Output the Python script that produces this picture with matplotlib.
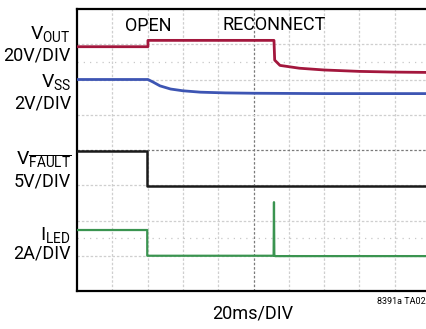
import matplotlib.pyplot as plt
import matplotlib as mpl

# scope traces, x and y in divisions (10 x 8 grid)
vout_t = [0.0, 2.01, 2.01, 5.58, 5.60, 5.75, 6.3, 7.0, 8.0, 9.0, 10.0]
vout_v = [6.93, 6.93, 7.11, 7.11, 6.55, 6.40, 6.32, 6.27, 6.23, 6.21, 6.20]

vss_t = [0.0, 2.01, 2.15, 2.35, 2.65, 3.0, 3.5, 4.2, 5.0, 7.0, 10.0]
vss_v = [6.00, 6.00, 5.93, 5.82, 5.73, 5.68, 5.64, 5.62, 5.61, 5.60, 5.60]

fault_t = [0.0, 1.99, 1.99, 10.0]
fault_v = [3.97, 3.97, 2.97, 2.97]

iled_t = [0.0, 1.99, 1.99, 5.57, 5.58, 5.59, 5.62, 10.0]
iled_v = [1.73, 1.73, 1.00, 1.00, 2.52, 1.00, 0.99, 0.99]

mpl.rcParams['font.family'] = ['Roboto', 'DejaVu Sans']
mpl.rcParams['mathtext.fontset'] = 'custom'
mpl.rcParams['mathtext.rm'] = 'Roboto'
mpl.rcParams['mathtext.it'] = 'Roboto'

fig = plt.figure(figsize=(4.27, 3.29), dpi=100)
ax = fig.add_axes([77 / 427, 38 / 329, 353 / 427, 282 / 329])
ax.set_xlim(0, 10)
ax.set_ylim(0, 8)

# graticule
for i in range(1, 10):
    c = '#7a7a7a' if i == 5 else '#cfcfcf'
    ax.axvline(i, color=c, lw=0.9, ls=(0, (2, 1.5)), zorder=1)
for j in range(1, 8):
    c = '#7a7a7a' if j == 4 else '#cfcfcf'
    ax.axhline(j, color=c, lw=0.9, ls=(0, (2, 1.5)), zorder=1)
for j in [1.5, 6.5]:
    ax.axhline(j, color='#c8c8c8', lw=0.9, ls=(0, (1, 4)), zorder=1)

ax.plot(vout_t, vout_v, color='#a3173d', lw=2.0, zorder=3)
ax.plot(vss_t, vss_v, color='#3d55b3', lw=2.0, zorder=3)
ax.plot(fault_t, fault_v, color='#1a1a1a', lw=1.8, zorder=3)
ax.plot(iled_t, iled_v, color='#3a9450', lw=1.6, zorder=3)

ax.set_xticks([])
ax.set_yticks([])
for s in ax.spines.values():
    s.set_linewidth(1.6)
    s.set_color('black')

ax.text(2.02, 7.53, 'OPEN', ha='center', va='center', fontsize=13)
ax.text(5.58, 7.55, 'RECONNECT', ha='center', va='center', fontsize=13)

lx = 71 / 427
def label(y, s, fs=14):
    fig.text(lx, 1 - y / 329, s, ha='right', va='center', fontsize=fs)

label(34, r'V$_{\mathrm{OUT}}$')
label(55, '20V/DIV', 13)
label(82, r'V$_{\mathrm{SS}}$')
label(103, '2V/DIV', 13)
label(160, r'V$_{\overline{\mathrm{FAULT}}}$')
label(181, '5V/DIV', 13)
label(235, r'I$_{\mathrm{LED}}$')
label(254, '2A/DIV', 13)

fig.text(253 / 427, 1 - 314 / 329, '20ms/DIV', ha='center', va='center', fontsize=13)
fig.text(426 / 427, 1 - 302 / 329, '8391a TA02', ha='right', va='center', fontsize=6.5)

fig.savefig('out.png', dpi=100)
